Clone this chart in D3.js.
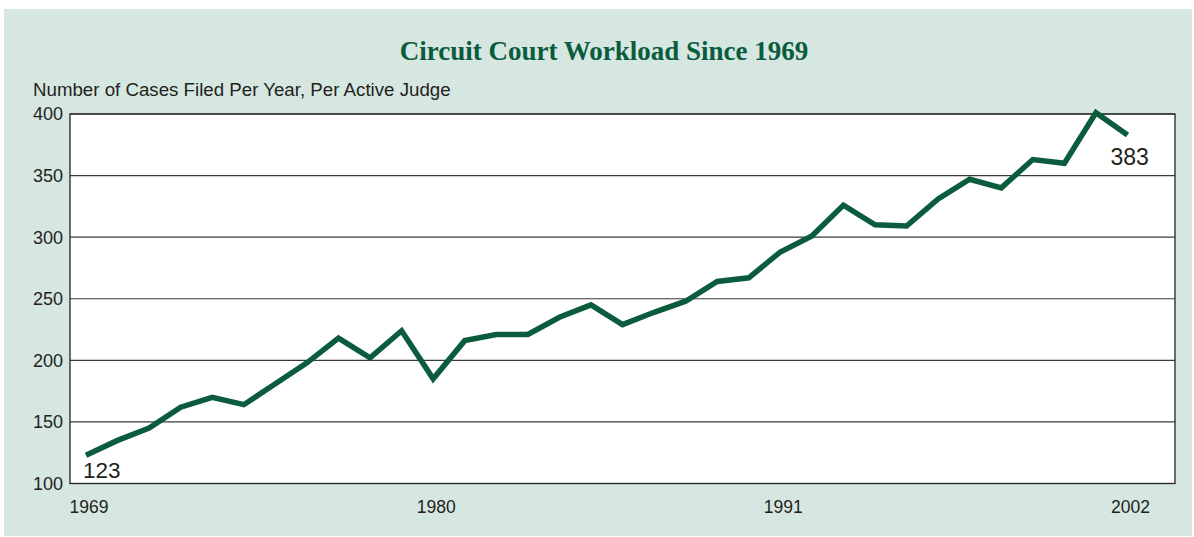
<!DOCTYPE html>
<html>
<head>
<meta charset="utf-8">
<script src="https://cdn.jsdelivr.net/npm/d3@7/dist/d3.min.js"></script>
<style>
  html, body { margin: 0; padding: 0; background: #ffffff; }
  svg { display: block; }
</style>
</head>
<body>
<svg id="chart" width="1194" height="537"></svg>
<script>
// ---- Data ----
const years = d3.range(1969, 2003);
const casesPerJudge = [
  123, 135, 145, 162, 170, 164, 181, 198, 218, 202,
  224, 185, 216, 221, 221, 235, 245, 229, 239, 248,
  264, 267, 288, 301, 326, 310, 309, 331, 347, 340,
  363, 360, 401, 383
];
const yTicks = [100, 150, 200, 250, 300, 350, 400];
const xTickYears = [1969, 1980, 1991, 2002];
const titleText = "Circuit Court Workload Since 1969";
const yAxisTitle = "Number of Cases Filed Per Year, Per Active Judge";
const startLabel = "123";
const endLabel = "383";

// ---- Layout ----
const panel = { x: 4, y: 9, w: 1188, h: 527 };
const plot = { left: 70, right: 1175, top: 114, bottom: 483.5 };
const green = "#0b5c3d";
const bg = "#d6e7e1";
const sans = "'Liberation Sans', Arial, Helvetica, sans-serif";

const svg = d3.select("#chart");

svg.append("rect")
  .attr("x", panel.x).attr("y", panel.y)
  .attr("width", panel.w).attr("height", panel.h)
  .attr("fill", bg);

const x = d3.scaleLinear().domain([1969, 2002]).range([86, 1127.5]);
const y = d3.scaleLinear().domain([100, 400]).range([plot.bottom, plot.top]);

// plot background
svg.append("rect")
  .attr("x", plot.left).attr("y", plot.top)
  .attr("width", plot.right - plot.left).attr("height", plot.bottom - plot.top)
  .attr("fill", "#ffffff");

// gridlines
svg.append("g")
  .selectAll("line")
  .data(yTicks)
  .join("line")
  .attr("x1", plot.left).attr("x2", plot.right)
  .attr("y1", d => y(d)).attr("y2", d => y(d))
  .attr("stroke", "#3a3a3a")
  .attr("stroke-width", 1.1);

// plot border
svg.append("rect")
  .attr("x", plot.left).attr("y", plot.top)
  .attr("width", plot.right - plot.left).attr("height", plot.bottom - plot.top)
  .attr("fill", "none")
  .attr("stroke", "#222")
  .attr("stroke-width", 1.3);

// y tick labels
svg.append("g")
  .selectAll("text")
  .data(yTicks)
  .join("text")
  .attr("x", 63)
  .attr("y", d => y(d))
  .attr("dy", "0.36em")
  .attr("text-anchor", "end")
  .attr("font-family", sans)
  .attr("font-size", 18)
  .attr("fill", "#231f20")
  .text(d => d);

// x tick labels
svg.append("g")
  .selectAll("text")
  .data(xTickYears)
  .join("text")
  .attr("x", d => x(d) + 3)
  .attr("y", 513)
  .attr("text-anchor", "middle")
  .attr("font-family", sans)
  .attr("font-size", 17.5)
  .attr("fill", "#231f20")
  .text(d => d);

// line
const line = d3.line()
  .x((d, i) => x(years[i]))
  .y(d => y(d));

svg.append("path")
  .datum(casesPerJudge)
  .attr("d", line)
  .attr("fill", "none")
  .attr("stroke", green)
  .attr("stroke-width", 5.5)
  .attr("stroke-linejoin", "miter")
  .attr("stroke-linecap", "butt");

// endpoint labels
svg.append("text")
  .attr("x", x(years[0]) - 3)
  .attr("y", 478)
  .attr("font-family", sans)
  .attr("font-size", 22.5)
  .attr("fill", "#231f20")
  .text(startLabel);

svg.append("text")
  .attr("x", x(years[years.length - 1]) - 17)
  .attr("y", 165)
  .attr("font-family", sans)
  .attr("font-size", 23)
  .attr("fill", "#231f20")
  .text(endLabel);

// title
svg.append("text")
  .attr("x", 604)
  .attr("y", 60)
  .attr("text-anchor", "middle")
  .attr("font-family", "'Liberation Serif', 'Times New Roman', serif")
  .attr("font-weight", "bold")
  .attr("font-size", 27)
  .attr("fill", green)
  .text(titleText);

// y axis title
svg.append("text")
  .attr("x", 33)
  .attr("y", 96)
  .attr("font-family", sans)
  .attr("font-size", 18.7)
  .attr("fill", "#231f20")
  .text(yAxisTitle);
</script>
</body>
</html>
